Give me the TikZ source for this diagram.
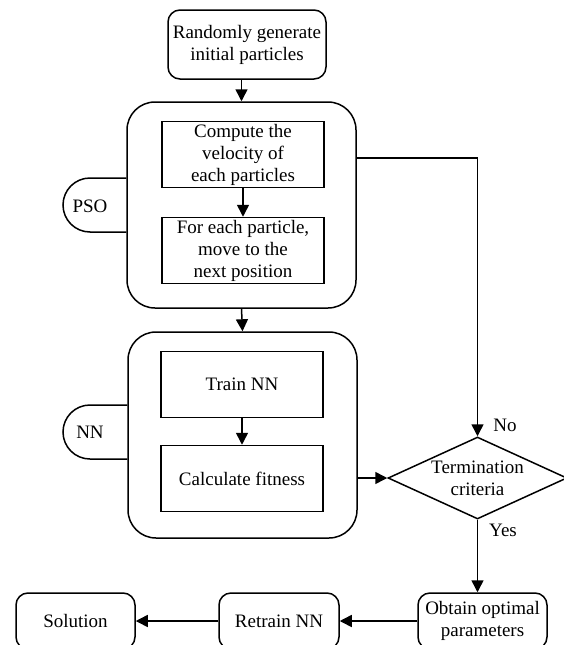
\documentclass[tikz,border=0pt]{standalone}
\usepackage{fontspec}
\setmainfont{Liberation Serif}
\usetikzlibrary{positioning, arrows.meta, shapes.geometric, calc}

\begin{document}
\begin{tikzpicture}[x=1pt, y=-1pt,
          txt/.style={font=\fontsize{19}{22}\selectfont, align=center, inner sep=0pt},
          nd/.style={txt, draw, line width=1.5pt, rounded corners=12pt},
          sq/.style={txt, draw, line width=1.5pt, minimum width=162pt, minimum height=66pt},
          grp/.style={draw, line width=1.5pt, rounded corners=28pt,
                      minimum width=229pt, minimum height=206pt},
          tabline/.style={draw, line width=1.5pt, rounded corners=27pt},
          arr/.style={-{Triangle[length=12pt, width=12pt]}, line width=1.5pt}]
        \useasboundingbox (0,0) rectangle (563,645);
        \node[nd, minimum width=158pt, minimum height=69pt]
          (start) at (247,44.5) {Randomly generate\\initial particles};
        % PSO block
        \node[grp] (pso) at (241.5,205) {};
        \node[sq] (vel) at (243,154.5) {Compute the\\velocity of\\each particles};
        \node[sq] (move) at (243,250.5) {For each particle,\\move to the\\next position};
        \draw[tabline] (pso.west |- 0,178) -- (63,178) -- (63,232) -- (pso.west |- 0,232);
        \node[txt] (psolbl) at (90,206) {PSO};
        % NN block
        \node[grp] (nn) at (242.5,435) {};
        \node[sq] (train) at (242,384.5) {Train NN};
        \node[sq] (fit) at (242,478.5) {Calculate fitness};
        \draw[tabline] (nn.west |- 0,405) -- (63,405) -- (63,459) -- (nn.west |- 0,459);
        \node[txt] (nnlbl) at (90,432) {NN};
        % decision and output
        \node[txt, draw, line width=1.5pt, diamond, aspect=2.17,
              minimum width=179pt, minimum height=82pt]
          (term) at (477.5,478) {Termination\\criteria};
        \node[nd, minimum width=129pt, minimum height=56pt]
          (obtain) at (482.5,621) {Obtain optimal\\parameters};
        \node[nd, minimum width=120pt, minimum height=56pt]
          (retrain) at (279,621) {Retrain NN};
        \node[nd, minimum width=119pt, minimum height=56pt]
          (sol) at (75.5,621) {Solution};
        \node[txt] (nolbl) at (505,425) {No};
        \node[txt] (yeslbl) at (503,530) {Yes};
        % connectors
        \draw[arr] (start.south -| pso.north) -- (pso.north);
        \draw[arr] (vel) -- (move);
        \draw[arr] (pso.south) -- (nn.north);
        \draw[arr] (train) -- (fit);
        \draw[arr] ($(pso.east)+(0,-47)$) -| (term.north);
        \draw[arr] (nn.east |- term.west) -- (term.west);
        \draw[arr] (term.south) -- (term.south |- obtain.north);
        \draw[arr] (obtain) -- (retrain);
        \draw[arr] (retrain) -- (sol);
      \end{tikzpicture}
\end{document}
